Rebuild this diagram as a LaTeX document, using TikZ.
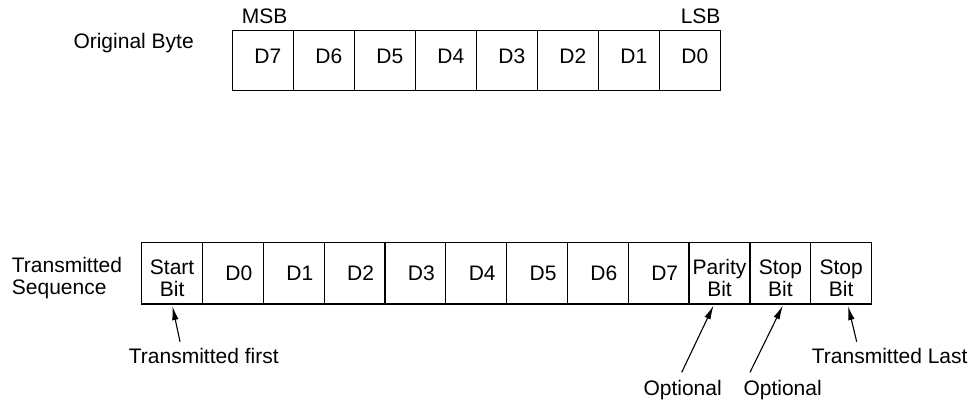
\documentclass[tikz,border=0pt]{standalone}
\usepackage{fontspec}
\setmainfont{Liberation Sans}
\usetikzlibrary{arrows.meta}
\begin{document}
\begin{tikzpicture}[x=1pt,y=-1pt,
  every node/.style={font=\fontsize{21}{22}\selectfont, inner sep=0pt},
  cellbase/.style={draw, line width=1.2pt},
  topcell/.style={cellbase, minimum width=61pt, minimum height=60pt, text height=15pt, text depth=10pt},
  botcell/.style={cellbase, minimum width=60.83pt, minimum height=61.3pt, text height=15pt, text depth=0pt},
  twocell/.style={cellbase, minimum width=60.83pt, minimum height=61.3pt, align=center, text height=46pt, text depth=0pt},
  arr/.style={line width=1.1pt, -{Latex[length=14pt,width=6.5pt]}}
]
\useasboundingbox (0,0) rectangle (977,399);

% Original byte
\node[anchor=base west] (orig) at (73.3,48.3) {Original Byte};
\node[anchor=base west] (msb) at (241.7,23.3) {MSB};
\node[anchor=base east] (lsb) at (720.7,23.3) {LSB};
\node[topcell] (b7) at (262.8,60.5) {\hspace*{10pt}D7};
\node[topcell] (b6) at (323.8,60.5) {\hspace*{10pt}D6};
\node[topcell] (b5) at (384.8,60.5) {\hspace*{10pt}D5};
\node[topcell] (b4) at (445.8,60.5) {\hspace*{10pt}D4};
\node[topcell] (b3) at (506.8,60.5) {\hspace*{10pt}D3};
\node[topcell] (b2) at (567.8,60.5) {\hspace*{10pt}D2};
\node[topcell] (b1) at (628.8,60.5) {\hspace*{10pt}D1};
\node[topcell] (b0) at (689.8,60.5) {\hspace*{10pt}D0};

% Transmitted sequence
\node[anchor=base west, align=left] (seq) at (11.7,294.5) {Transmitted\\Sequence};
\node[twocell] (start) at (172.1,273.3) {Start\\Bit};
\node[botcell] (t0) at (232.9,273.3) {\hspace*{12pt}D0};
\node[botcell] (t1) at (293.8,273.3) {\hspace*{12pt}D1};
\node[botcell] (t2) at (354.6,273.3) {\hspace*{12pt}D2};
\node[botcell] (t3) at (415.4,273.3) {\hspace*{12pt}D3};
\node[botcell] (t4) at (476.2,273.3) {\hspace*{12pt}D4};
\node[botcell] (t5) at (537.1,273.3) {\hspace*{12pt}D5};
\node[botcell] (t6) at (597.9,273.3) {\hspace*{12pt}D6};
\node[botcell] (t7) at (658.7,273.3) {\hspace*{12pt}D7};
\node[twocell] (par) at (719.5,273.3) {Parity\\Bit};
\node[twocell] (stopa) at (780.4,273.3) {Stop\\Bit};
\node[twocell] (stopb) at (841.2,273.3) {Stop\\Bit};

% annotations
\node[anchor=base] (first) at (203.8,363) {Transmitted first};
\node[anchor=base west] (last) at (811.7,363) {Transmitted Last};
\node[anchor=base west] (opta) at (643.3,395) {Optional};
\node[anchor=base west] (optb) at (743.3,395) {Optional};

\coordinate (firsttail) at (180,341.7);
\coordinate (lasttail) at (856.7,341.7);
\coordinate (optatail) at (681.7,372.3);
\coordinate (optbtail) at (750,372.3);

\draw[arr, shorten >=1.5pt] (firsttail) -- (start.south);
\draw[arr, shorten >=1pt] (optatail) -- ([xshift=-5.5pt]par.south);
\draw[arr, shorten >=1pt] (optbtail) -- ([xshift=2.9pt]stopa.south);
\draw[arr, shorten >=1.5pt] (lasttail) -- ([xshift=6.5pt]stopb.south);
\end{tikzpicture}
\end{document}
